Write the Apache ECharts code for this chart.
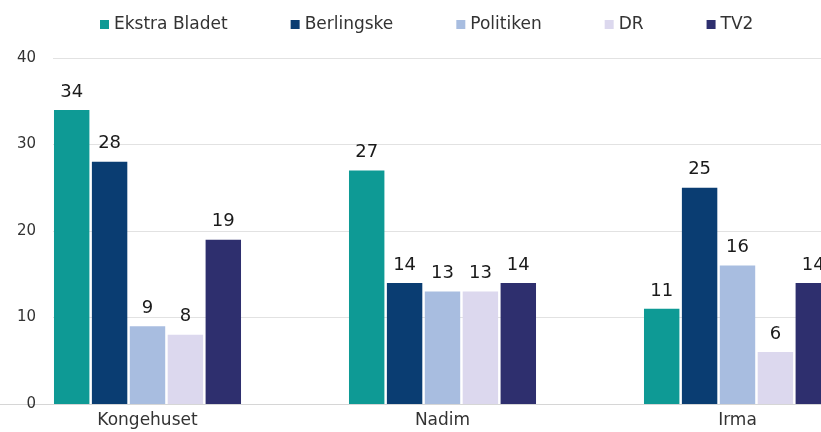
<!DOCTYPE html>
<html><head><meta charset="utf-8">
<script src="https://cdn.jsdelivr.net/npm/echarts@6/dist/echarts.min.js"></script>
<style>html,body{margin:0;padding:0;background:#fff}#c{width:821px;height:432px}</style>
</head><body><div id="c"></div>
<script>
const categories = ['Kongehuset', 'Nadim', 'Irma'];
const seriesNames = ['Ekstra Bladet', 'Berlingske', 'Politiken', 'DR', 'TV2'];
const ekstraBladet = [34, 27, 11];
const berlingske = [28, 14, 25];
const politiken = [9, 13, 16];
const dr = [8, 13, 6];
const tv2 = [19, 14, 14];
const yTicks = [0, 10, 20, 30, 40];
const colors = ['#0e9a95', '#0a3d72', '#a8bde0', '#dcd8ee', '#2e2f6e'];

const values = [ekstraBladet, berlingske, politiken, dr, tv2];
const FONT = '"DejaVu Sans", "Open Sans", sans-serif';
const chart = echarts.init(document.getElementById('c'), null, {renderer: 'canvas'});
chart.setOption({
  animation: false,
  textStyle: {fontFamily: FONT},
  legend: {
    top: 11, left: 95, itemWidth: 9, itemHeight: 9, itemGap: 63, icon: 'rect',
    textStyle: {fontSize: 17, color: '#333', fontFamily: FONT},
    data: seriesNames
  },
  grid: [
    {left: 53, right: 0, top: 58, bottom: 28, containLabel: false, outerBoundsMode: 'none'},
    {left: 0, width: 885, top: 58, bottom: 28, containLabel: false, outerBoundsMode: 'none'}
  ],
  xAxis: [
    {gridIndex: 0, type: 'value', show: false},
    {gridIndex: 1, type: 'category', data: categories,
     axisLine: {show: true, lineStyle: {color: '#d6d6d6'}}, axisTick: {show: false},
     axisLabel: {fontSize: 17, color: '#333', margin: 8, fontFamily: FONT}}
  ],
  yAxis: [
    {gridIndex: 0, type: 'value', min: yTicks[0], max: yTicks[yTicks.length - 1], interval: 10,
     axisLine: {show: false}, axisTick: {show: false},
     axisLabel: {fontSize: 15, color: '#333', margin: 17, fontFamily: FONT},
     splitLine: {lineStyle: {color: '#e2e2e2'}}},
    {gridIndex: 1, type: 'value', min: yTicks[0], max: yTicks[yTicks.length - 1], interval: 10, show: false}
  ],
  series: seriesNames.map((n, i) => ({
    name: n, type: 'bar', xAxisIndex: 1, yAxisIndex: 1,
    data: values[i], barGap: '7%', barCategoryGap: '36.6%',
    itemStyle: {color: colors[i]},
    label: {show: true, position: 'top', fontSize: 18, color: '#1a1a1a', fontFamily: FONT, distance: 9}
  }))
});
</script></body></html>
